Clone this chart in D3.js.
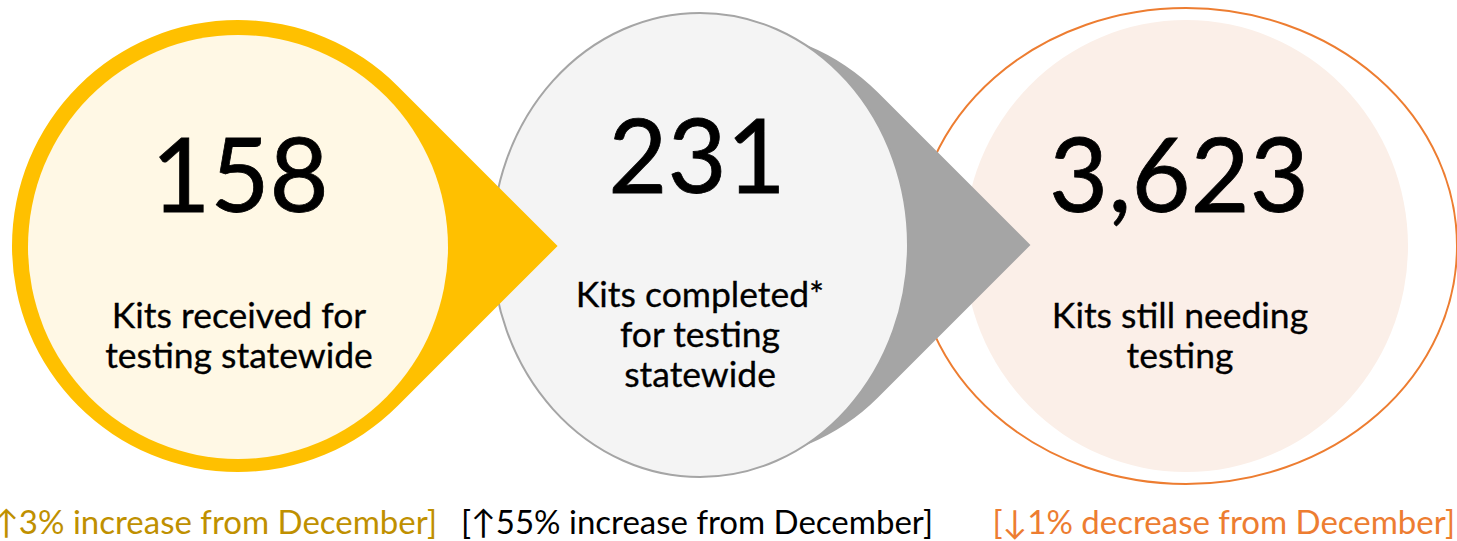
<!DOCTYPE html>
<html>
<head>
<meta charset="utf-8">
<script src="https://cdn.jsdelivr.net/npm/d3@7"></script>
<style>
  html, body { margin: 0; padding: 0; background: #ffffff; }
  svg { display: block; }
</style>
</head>
<body>
<svg id="chart" width="1457" height="541"></svg>
<script>
// ---- data ----
const categories = ["received", "completed", "backlog"];
const values = [158, 231, 3623];
const labelLines = [
  ["Kits received for", "testing statewide"],
  ["Kits completed*", "for testing", "statewide"],
  ["Kits still needing", "testing"]
];
const changeTexts = [
  "[\u21913% increase from December]",
  "[\u219155% increase from December]",
  "[\u21931% decrease from December]"
];

// ---- layout / style ----
const W = 1457, H = 541;
const svg = d3.select("#chart");
const fmt = d3.format(",");
const FONT = "Lato, 'Open Sans', 'Noto Sans', sans-serif";

const shapeColor = d3.scaleOrdinal().domain(categories).range(["#FFC000", "#A5A5A5", "#ED7D31"]);
const innerFill = d3.scaleOrdinal().domain(categories).range(["#FFF8E5", "#F4F4F4", "#FBEFE8"]);
const changeColor = d3.scaleOrdinal().domain(categories).range(["#BF9000", "#000000", "#ED7D31"]);

function teardrop(cx, cy, r) {
  const p = d3.path();
  const k = Math.SQRT1_2 * r;
  p.moveTo(cx + k, cy - k);
  p.lineTo(cx + r * Math.SQRT2, cy);
  p.lineTo(cx + k, cy + k);
  p.arc(cx, cy, r, Math.PI / 4, -Math.PI / 4, false);
  p.closePath();
  return p.toString();
}

// third: orange ring + pink disc (bottom layer)
svg.append("ellipse").attr("cx", 1186).attr("cy", 246).attr("rx", 271).attr("ry", 238)
  .attr("fill", "#ffffff").attr("stroke", shapeColor("backlog")).attr("stroke-width", 2);
svg.append("ellipse").attr("cx", 1186).attr("cy", 246).attr("rx", 222).attr("ry", 226)
  .attr("fill", innerFill("backlog"));

// second: dark grey teardrop + light grey disc
svg.append("path").attr("d", teardrop(725, 245, 216)).attr("fill", shapeColor("completed"));
svg.append("ellipse").attr("cx", 700).attr("cy", 245).attr("rx", 208).attr("ry", 232)
  .attr("fill", innerFill("completed")).attr("stroke", "#A5A5A5").attr("stroke-width", 2);

// first: yellow teardrop + cream disc
svg.append("path").attr("d", teardrop(238, 246, 226)).attr("fill", shapeColor("received"));
svg.append("ellipse").attr("cx", 238).attr("cy", 247).attr("rx", 210).attr("ry", 212)
  .attr("fill", innerFill("received"));

// big numbers
const numPos = [[240, 212], [697, 193], [1179, 212]];
svg.selectAll("text.num").data(values).join("text")
  .attr("class", "num")
  .attr("x", (d, i) => numPos[i][0])
  .attr("y", (d, i) => numPos[i][1])
  .attr("text-anchor", "middle")
  .attr("font-family", FONT)
  .attr("font-size", 102)
  .attr("fill", "#000")
  .attr("stroke", "#000").attr("stroke-width", 0.8)
  .text(d => fmt(d));

// labels
const labPos = [[239, 328], [700, 307], [1180, 328]];
labelLines.forEach((lines, i) => {
  const t = svg.append("text")
    .attr("text-anchor", "middle")
    .attr("font-family", FONT)
    .attr("font-size", 35.5)
    .attr("fill", "#000")
    .attr("stroke", "#000").attr("stroke-width", 0.3);
  lines.forEach((ln, j) => {
    t.append("tspan").attr("x", labPos[i][0]).attr("y", labPos[i][1] + j * 40).text(ln);
  });
});

// change notes
const chPos = [[437, "end"], [697, "middle"], [1455, "end"]];
svg.selectAll("text.chg").data(changeTexts).join("text")
  .attr("class", "chg")
  .attr("x", (d, i) => chPos[i][0])
  .attr("y", 534)
  .attr("text-anchor", (d, i) => chPos[i][1])
  .attr("font-family", FONT)
  .attr("font-size", 33)
  .attr("fill", (d, i) => changeColor(categories[i]))
  .text(d => d);
</script>
</body>
</html>
